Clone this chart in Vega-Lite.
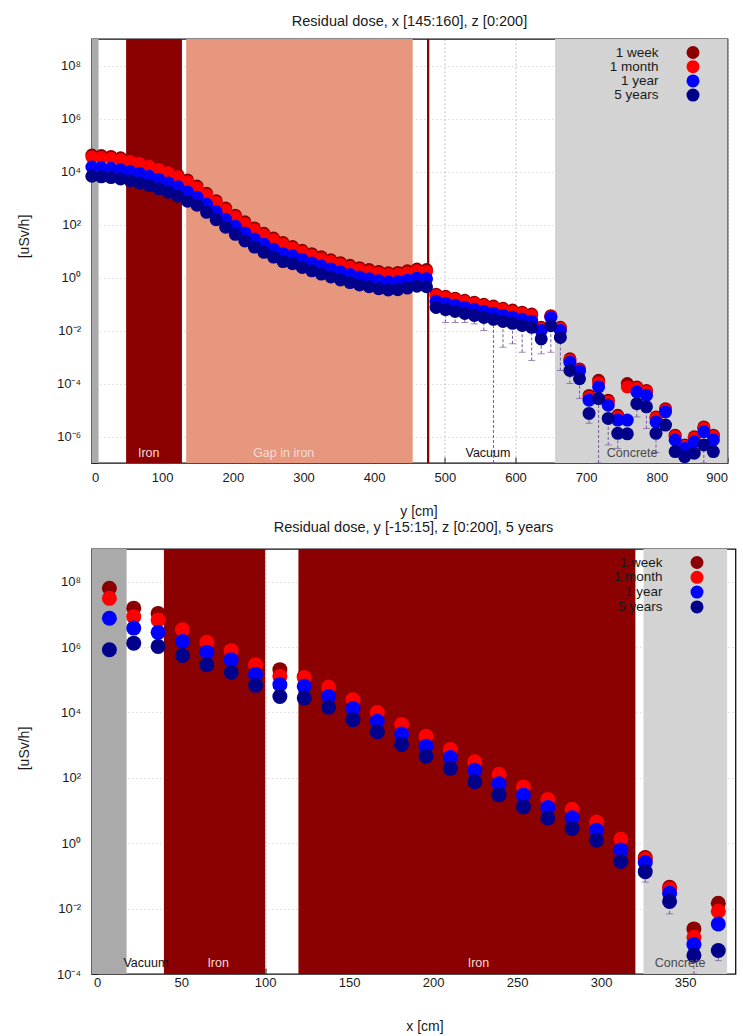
{
  "$schema": "https://vega.github.io/schema/vega-lite/v6.json",
  "background": "white",
  "padding": {"left": 16.5, "top": 13, "right": 5, "bottom": 2},
  "config": {
    "font": "Liberation Sans",
    "view": {"stroke": "#111", "strokeWidth": 1.3},
    "axis": {
      "labelFont": "Liberation Sans", "labelFontSize": 13, "labelColor": "#1a1a1a",
      "titleFont": "Liberation Sans", "titleFontSize": 14, "titleFontWeight": "normal", "titleColor": "#1a1a1a",
      "domain": false, "tickColor": "#222", "tickSize": -6, "tickWidth": 1,
      "gridColor": "#555", "gridDash": [1.5, 2.5], "gridOpacity": 0.45, "zindex": 1
    },
    "title": {"font": "Liberation Sans", "fontSize": 14.5, "fontWeight": "normal", "color": "#1a1a1a"},
    "legend": {"labelFont": "Liberation Sans", "labelFontSize": 13.5, "labelColor": "#1a1a1a"}
  },
  "datasets": {
    "top": [
      {"x": 0.5, "w": 4.17e4, "m": 3.55e4, "a": 1.48e4, "b": 6.61e3},
      {"x": 14.0, "w": 3.98e4, "m": 3.39e4, "a": 1.41e4, "b": 6.31e3},
      {"x": 27.6, "w": 3.72e4, "m": 3.16e4, "a": 1.32e4, "b": 5.89e3},
      {"x": 41.1, "w": 3.31e4, "m": 2.82e4, "a": 1.17e4, "b": 5.25e3},
      {"x": 54.6, "w": 2.82e4, "m": 2.40e4, "a": 1.00e4, "b": 4.47e3},
      {"x": 68.2, "w": 2.34e4, "m": 2.00e4, "a": 8.32e3, "b": 3.72e3},
      {"x": 81.7, "w": 1.86e4, "m": 1.58e4, "a": 6.61e3, "b": 2.95e3},
      {"x": 95.2, "w": 1.41e4, "m": 1.20e4, "a": 5.01e3, "b": 2.24e3},
      {"x": 108.7, "w": 1.05e4, "m": 8.91e3, "a": 3.72e3, "b": 1.66e3},
      {"x": 122.3, "w": 7.41e3, "m": 6.31e3, "a": 2.63e3, "b": 1.17e3},
      {"x": 135.8, "w": 4.79e3, "m": 4.07e3, "a": 1.70e3, "b": 759},
      {"x": 149.3, "w": 2.82e3, "m": 2.40e3, "a": 1.07e3, "b": 537},
      {"x": 162.9, "w": 1.51e3, "m": 1.29e3, "a": 575, "b": 288},
      {"x": 176.4, "w": 794, "m": 676, "a": 302, "b": 151},
      {"x": 189.9, "w": 417, "m": 355, "a": 158, "b": 79.4},
      {"x": 203.5, "w": 224, "m": 191, "a": 85.1, "b": 42.7},
      {"x": 217.0, "w": 126, "m": 107, "a": 47.9, "b": 24.0},
      {"x": 230.5, "w": 74.1, "m": 63.1, "a": 28.2, "b": 14.1},
      {"x": 244.0, "w": 46.8, "m": 39.8, "a": 17.8, "b": 8.91},
      {"x": 257.6, "w": 30.9, "m": 26.3, "a": 11.7, "b": 5.89},
      {"x": 271.1, "w": 20.9, "m": 17.8, "a": 7.94, "b": 3.98},
      {"x": 284.6, "w": 14.8, "m": 12.6, "a": 6.61, "b": 3.31},
      {"x": 298.2, "w": 10.7, "m": 9.12, "a": 4.79, "b": 2.40},
      {"x": 311.7, "w": 7.94, "m": 6.76, "a": 3.55, "b": 1.78},
      {"x": 325.2, "w": 6.03, "m": 5.13, "a": 2.69, "b": 1.35},
      {"x": 338.8, "w": 4.68, "m": 3.98, "a": 2.09, "b": 1.05},
      {"x": 352.3, "w": 3.63, "m": 3.09, "a": 1.62, "b": 0.813},
      {"x": 365.8, "w": 2.88, "m": 2.45, "a": 1.29, "b": 0.646},
      {"x": 379.3, "w": 2.34, "m": 2.00, "a": 1.05, "b": 0.525},
      {"x": 392.9, "w": 2.00, "m": 1.70, "a": 0.891, "b": 0.447},
      {"x": 406.4, "w": 1.70, "m": 1.45, "a": 0.759, "b": 0.380},
      {"x": 419.9, "w": 1.51, "m": 1.29, "a": 0.676, "b": 0.339},
      {"x": 433.5, "w": 1.55, "m": 1.32, "a": 0.692, "b": 0.347},
      {"x": 447.0, "w": 1.78, "m": 1.51, "a": 0.794, "b": 0.398},
      {"x": 460.5, "w": 2.09, "m": 1.78, "a": 0.933, "b": 0.468},
      {"x": 474.1, "w": 2.00, "m": 1.70, "a": 0.891, "b": 0.447},
      {"x": 487.6, "w": 0.234, "m": 0.209, "a": 0.126, "b": 0.0741},
      {"x": 501.1, "w": 0.195, "m": 0.174, "a": 0.105, "b": 0.0617},
      {"x": 514.6, "w": 0.166, "m": 0.148, "a": 0.0891, "b": 0.0525},
      {"x": 528.2, "w": 0.138, "m": 0.123, "a": 0.0741, "b": 0.0437},
      {"x": 541.7, "w": 0.117, "m": 0.105, "a": 0.0631, "b": 0.0372},
      {"x": 555.2, "w": 0.0977, "m": 0.0871, "a": 0.0525, "b": 0.0309},
      {"x": 568.8, "w": 0.0832, "m": 0.0741, "a": 0.0447, "b": 0.0263},
      {"x": 582.3, "w": 0.0692, "m": 0.0617, "a": 0.0372, "b": 0.0219},
      {"x": 595.8, "w": 0.0589, "m": 0.0525, "a": 0.0316, "b": 0.0186},
      {"x": 609.4, "w": 0.0490, "m": 0.0437, "a": 0.0263, "b": 0.0155},
      {"x": 622.9, "w": 0.0417, "m": 0.0372, "a": 0.0224, "b": 0.0132},
      {"x": 636.4, "w": 0.0132, "m": 0.0120, "a": 0.0100, "b": 0.00479},
      {"x": 650.0, "w": 0.0363, "m": 0.0339, "a": 0.0316, "b": 0.0151},
      {"x": 663.5, "w": 0.0132, "m": 0.0120, "a": 0.0100, "b": 0.00550},
      {"x": 677.0, "w": 8.51e-4, "m": 7.59e-4, "a": 6.31e-4, "b": 3.09e-4},
      {"x": 690.6, "w": 3.55e-4, "m": 3.24e-4, "a": 2.95e-4, "b": 1.51e-4},
      {"x": 704.1, "w": 3.55e-5, "m": 3.02e-5, "a": 2.34e-5, "b": 7.41e-6},
      {"x": 717.6, "w": 1.32e-4, "m": 1.07e-4, "a": 7.41e-5, "b": 2.69e-5},
      {"x": 731.2, "w": 2.34e-5, "m": 2.00e-5, "a": 1.51e-5, "b": 4.79e-6},
      {"x": 744.7, "w": 6.31e-6, "m": 5.50e-6, "a": 4.17e-6, "b": 1.32e-6},
      {"x": 758.2, "w": 1.00e-4, "m": 7.41e-5, "a": 4.17e-6, "b": 1.26e-6},
      {"x": 771.7, "w": 7.41e-5, "m": 6.61e-5, "a": 4.79e-5, "b": 1.74e-5},
      {"x": 785.3, "w": 5.50e-5, "m": 4.90e-5, "a": 3.55e-5, "b": 1.32e-5},
      {"x": 798.8, "w": 5.50e-6, "m": 4.90e-6, "a": 3.55e-6, "b": 1.32e-6},
      {"x": 812.3, "w": 1.12e-5, "m": 1.00e-5, "a": 8.51e-6, "b": 2.69e-6},
      {"x": 825.9, "w": 1.12e-6, "m": 1.00e-6, "a": 7.41e-7, "b": 2.69e-7},
      {"x": 839.4, "w": 4.79e-7, "m": 4.27e-7, "a": 3.55e-7, "b": 1.74e-7},
      {"x": 852.9, "w": 9.77e-7, "m": 8.71e-7, "a": 6.31e-7, "b": 2.34e-7},
      {"x": 866.5, "w": 2.29e-6, "m": 2.04e-6, "a": 1.51e-6, "b": 4.79e-7},
      {"x": 880.0, "w": 1.12e-6, "m": 1.00e-6, "a": 7.41e-7, "b": 2.69e-7}
    ],
    "errTop": [
      {"x": 501.1, "lo": 0.020, "hi": 0.0617},
      {"x": 514.6, "lo": 0.020, "hi": 0.0525},
      {"x": 528.2, "lo": 0.020, "hi": 0.0437},
      {"x": 541.7, "lo": 0.0178, "hi": 0.0372},
      {"x": 555.2, "lo": 0.0100, "hi": 0.0309},
      {"x": 568.8, "lo": 1e-7, "hi": 0.0263},
      {"x": 582.3, "lo": 2.34e-3, "hi": 0.0219},
      {"x": 595.8, "lo": 3.16e-3, "hi": 0.0186},
      {"x": 609.4, "lo": 1.51e-3, "hi": 0.0155},
      {"x": 622.9, "lo": 7.41e-4, "hi": 0.0132},
      {"x": 636.4, "lo": 1.32e-3, "hi": 0.00479},
      {"x": 650.0, "lo": 1.51e-3, "hi": 0.0151},
      {"x": 663.5, "lo": 3.09e-4, "hi": 0.0055},
      {"x": 677.0, "lo": 1.0e-4, "hi": 3.09e-4},
      {"x": 690.6, "lo": 2.69e-5, "hi": 1.51e-4},
      {"x": 704.1, "lo": 3.16e-6, "hi": 7.41e-6},
      {"x": 717.6, "lo": 1e-7, "hi": 2.69e-5},
      {"x": 731.2, "lo": 4.79e-7, "hi": 4.79e-6},
      {"x": 744.7, "lo": 3.55e-7, "hi": 1.32e-6},
      {"x": 771.7, "lo": 5.5e-6, "hi": 1.74e-5},
      {"x": 785.3, "lo": 2.0e-6, "hi": 1.32e-5},
      {"x": 798.8, "lo": 2.5e-7, "hi": 1.32e-6},
      {"x": 866.5, "lo": 1e-7, "hi": 4.79e-7}
    ],
    "bandsTop": [
      {"mat": "beam", "start": 0, "end": 10},
      {"mat": "iron", "start": 49, "end": 128},
      {"mat": "gap", "start": 134, "end": 454.5},
      {"mat": "iron", "start": 474.8, "end": 478},
      {"mat": "concrete", "start": 656, "end": 900}
    ],
    "labTop": [
      {"label": "Iron", "x": 81},
      {"label": "Gap in iron", "x": 272},
      {"label": "Vacuum", "x": 561},
      {"label": "Concrete", "x": 765}
    ],
    "bot": [
      {"x": 7.25, "w": 6.31e7, "m": 3.09e7, "a": 7.59e6, "b": 8.32e5},
      {"x": 21.75, "w": 1.55e7, "m": 8.51e6, "a": 3.80e6, "b": 1.32e6},
      {"x": 36.25, "w": 1.07e7, "m": 6.76e6, "a": 2.82e6, "b": 1.05e6},
      {"x": 50.75, "w": 3.63e6, "m": 3.39e6, "a": 1.48e6, "b": 5.50e5},
      {"x": 65.25, "w": 1.51e6, "m": 1.41e6, "a": 6.92e5, "b": 2.88e5},
      {"x": 79.75, "w": 8.32e5, "m": 7.76e5, "a": 4.07e5, "b": 1.70e5},
      {"x": 94.25, "w": 3.09e5, "m": 2.88e5, "a": 1.48e5, "b": 6.76e4},
      {"x": 108.75, "w": 2.04e5, "m": 1.26e5, "a": 7.08e4, "b": 3.09e4},
      {"x": 123.25, "w": 1.26e5, "m": 1.17e5, "a": 6.31e4, "b": 2.75e4},
      {"x": 137.75, "w": 6.31e4, "m": 5.89e4, "a": 3.09e4, "b": 1.45e4},
      {"x": 152.25, "w": 2.63e4, "m": 2.45e4, "a": 1.32e4, "b": 6.03e3},
      {"x": 166.75, "w": 1.07e4, "m": 1.00e4, "a": 5.37e3, "b": 2.57e3},
      {"x": 181.25, "w": 4.57e3, "m": 4.27e3, "a": 2.19e3, "b": 1.05e3},
      {"x": 195.75, "w": 2.00e3, "m": 1.86e3, "a": 933, "b": 457},
      {"x": 210.25, "w": 794, "m": 741, "a": 417, "b": 195},
      {"x": 224.75, "w": 331, "m": 309, "a": 170, "b": 75.9},
      {"x": 239.25, "w": 138, "m": 129, "a": 66.1, "b": 30.2},
      {"x": 253.75, "w": 56.2, "m": 52.5, "a": 29.5, "b": 12.9},
      {"x": 268.25, "w": 23.4, "m": 21.9, "a": 12.3, "b": 5.89},
      {"x": 282.75, "w": 11.7, "m": 11.0, "a": 6.03, "b": 2.82},
      {"x": 297.25, "w": 4.79, "m": 4.47, "a": 2.51, "b": 1.23},
      {"x": 311.75, "w": 1.41, "m": 1.32, "a": 0.617, "b": 0.275},
      {"x": 326.25, "w": 0.363, "m": 0.324, "a": 0.257, "b": 0.135},
      {"x": 340.75, "w": 0.0447, "m": 0.0398, "a": 0.0295, "b": 0.0166},
      {"x": 355.25, "w": 2.40e-3, "m": 1.32e-3, "a": 7.94e-4, "b": 3.72e-4},
      {"x": 369.75, "w": 0.0145, "m": 8.32e-3, "a": 3.39e-3, "b": 5.25e-4}
    ],
    "errBot": [
      {"x": 326.25, "lo": 0.0646, "hi": 0.135},
      {"x": 340.75, "lo": 6.92e-3, "hi": 0.0166},
      {"x": 355.25, "lo": 1.0e-4, "hi": 3.72e-4},
      {"x": 369.75, "lo": 2.57e-4, "hi": 5.25e-4}
    ],
    "bandsBot": [
      {"mat": "beam", "start": -3.4, "end": 17.5},
      {"mat": "iron", "start": 39.7, "end": 100},
      {"mat": "iron", "start": 119.8, "end": 320.4},
      {"mat": "concrete", "start": 325.2, "end": 375}
    ],
    "labBot": [
      {"label": "Vacuum", "x": 29},
      {"label": "Iron", "x": 72},
      {"label": "Iron", "x": 227},
      {"label": "Concrete", "x": 347}
    ]
  },
  "resolve": {"legend": {"color": "independent", "fill": "independent"}},
  "spacing": 0,
  "vconcat": [
    {
      "width": 636,
      "height": 424,
      "title": {"text": "Residual dose, x [145:160], z [0:200]", "offset": 9},
      "layer": [
        {
          "data": {"name": "bandsTop"},
          "transform": [{"filter": "datum.mat == 'beam'"}],
          "mark": {"type": "rect", "color": "#aaaaaa"},
          "encoding": {
            "x": {"field": "start", "type": "quantitative", "scale": {"domain": [0, 900], "nice": false, "zero": false},
                  "axis": {"title": "y [cm]", "values": [0, 100, 200, 300, 400, 500, 600, 700, 800, 900], "labelPadding": 14, "titleX": 327, "titleY": 41, "titleBaseline": "top"}},
            "x2": {"field": "end"}
          }
        },
        {
          "data": {"name": "bandsTop"},
          "transform": [{"filter": "datum.mat == 'iron'"}],
          "mark": {"type": "rect", "color": "#8b0000"},
          "encoding": {"x": {"field": "start", "type": "quantitative"}, "x2": {"field": "end"}}
        },
        {
          "data": {"name": "bandsTop"},
          "transform": [{"filter": "datum.mat == 'gap'"}],
          "mark": {"type": "rect", "color": "#e6977d"},
          "encoding": {"x": {"field": "start", "type": "quantitative"}, "x2": {"field": "end"}}
        },
        {
          "data": {"name": "bandsTop"},
          "transform": [{"filter": "datum.mat == 'concrete'"}],
          "mark": {"type": "rect", "color": "#d3d3d3"},
          "encoding": {"x": {"field": "start", "type": "quantitative"}, "x2": {"field": "end"}}
        },
        {
          "data": {"name": "errTop"},
          "mark": {"type": "rule", "color": "#7a5a9c", "strokeDash": [3, 2], "strokeWidth": 1},
          "encoding": {
            "x": {"field": "x", "type": "quantitative"},
            "y": {"field": "lo", "type": "quantitative", "scale": {"type": "log", "domain": [1e-7, 1e9]}},
            "y2": {"field": "hi"}
          }
        },
        {
          "data": {"name": "errTop"},
          "mark": {"type": "tick", "color": "#7a5a9c", "orient": "horizontal", "size": 7, "thickness": 1},
          "encoding": {
            "x": {"field": "x", "type": "quantitative"},
            "y": {"field": "lo", "type": "quantitative", "scale": {"type": "log", "domain": [1e-7, 1e9]}}
          }
        },
        {
          "data": {"name": "top"},
          "mark": {"type": "circle", "size": 169, "opacity": 1},
          "encoding": {
            "x": {"field": "x", "type": "quantitative"},
            "y": {"field": "w", "type": "quantitative", "scale": {"type": "log", "domain": [1e-7, 1e9]},
                  "axis": {"title": "[uSv/h]", "titlePadding": 25, "labelPadding": 17, "titleY": 197,
                           "values": [1e-7, 1e-6, 1e-5, 1e-4, 1e-3, 1e-2, 1e-1, 1, 10, 100, 1e3, 1e4, 1e5, 1e6, 1e7, 1e8, 1e9],
                           "labelExpr": "abs(round(log(datum.value)/LN10)) % 2 == 1 ? '' : '10' + (datum.value < 0.5 ? '⁻' : '') + substring('⁰¹²³⁴⁵⁶⁷⁸⁹', abs(round(log(datum.value)/LN10)), abs(round(log(datum.value)/LN10)) + 1)",
                           "gridOpacity": {"condition": {"test": "abs(round(log(datum.value)/LN10)) % 2 == 1", "value": 0}, "value": 0.45}}},
            "color": {"datum": "1 week", "type": "nominal",
                      "scale": {"domain": ["1 week", "1 month", "1 year", "5 years"], "range": ["#8b0000", "#ff0000", "#0000ff", "#00008b"]},
                      "legend": {"title": null, "orient": "none", "legendX": 594, "legendY": 6, "symbolSize": 169,
                                 "labelAlign": "right", "labelOffset": -42, "rowPadding": 0.2}}
          }
        },
        {
          "data": {"name": "top"},
          "mark": {"type": "circle", "size": 169, "opacity": 1},
          "encoding": {
            "x": {"field": "x", "type": "quantitative"},
            "y": {"field": "m", "type": "quantitative", "scale": {"type": "log", "domain": [1e-7, 1e9]}},
            "color": {"datum": "1 month", "type": "nominal"}
          }
        },
        {
          "data": {"name": "top"},
          "mark": {"type": "circle", "size": 169, "opacity": 1},
          "encoding": {
            "x": {"field": "x", "type": "quantitative"},
            "y": {"field": "a", "type": "quantitative", "scale": {"type": "log", "domain": [1e-7, 1e9]}},
            "color": {"datum": "1 year", "type": "nominal"}
          }
        },
        {
          "data": {"name": "top"},
          "mark": {"type": "circle", "size": 169, "opacity": 1},
          "encoding": {
            "x": {"field": "x", "type": "quantitative"},
            "y": {"field": "b", "type": "quantitative", "scale": {"type": "log", "domain": [1e-7, 1e9]}},
            "color": {"datum": "5 years", "type": "nominal"}
          }
        },
        {
          "data": {"name": "labTop"},
          "transform": [{"filter": "datum.label == 'Iron' || datum.label == 'Gap in iron'"}],
          "mark": {"type": "text", "fontSize": 12.5, "color": "#f6dcd4", "baseline": "bottom", "dy": -3},
          "encoding": {
            "x": {"field": "x", "type": "quantitative"},
            "y": {"datum": 1e-7, "type": "quantitative", "scale": {"type": "log", "domain": [1e-7, 1e9]}},
            "text": {"field": "label"}
          }
        },
        {
          "data": {"name": "labTop"},
          "transform": [{"filter": "datum.label == 'Vacuum'"}],
          "mark": {"type": "text", "fontSize": 12.5, "color": "#111111", "baseline": "bottom", "dy": -3},
          "encoding": {
            "x": {"field": "x", "type": "quantitative"},
            "y": {"datum": 1e-7, "type": "quantitative", "scale": {"type": "log", "domain": [1e-7, 1e9]}},
            "text": {"field": "label"}
          }
        },
        {
          "data": {"name": "labTop"},
          "transform": [{"filter": "datum.label == 'Concrete'"}],
          "mark": {"type": "text", "fontSize": 12.5, "color": "#4a4a4a", "baseline": "bottom", "dy": -3},
          "encoding": {
            "x": {"field": "x", "type": "quantitative"},
            "y": {"datum": 1e-7, "type": "quantitative", "scale": {"type": "log", "domain": [1e-7, 1e9]}},
            "text": {"field": "label"}
          }
        }
      ]
    },
    {
      "width": 644,
      "height": 425,
      "title": {"text": "Residual dose, y [-15:15], z [0:200], 5 years", "offset": 13},
      "layer": [
        {
          "data": {"name": "bandsBot"},
          "transform": [{"filter": "datum.mat == 'beam'"}],
          "mark": {"type": "rect", "color": "#aaaaaa"},
          "encoding": {
            "x": {"field": "start", "type": "quantitative", "scale": {"domain": [-3.4, 380], "nice": false, "zero": false},
                  "axis": {"title": "x [cm]", "values": [0, 50, 100, 150, 200, 250, 300, 350], "labelPadding": 8, "titleX": 333, "titleY": 45, "titleBaseline": "top"}},
            "x2": {"field": "end"}
          }
        },
        {
          "data": {"name": "bandsBot"},
          "transform": [{"filter": "datum.mat == 'iron'"}],
          "mark": {"type": "rect", "color": "#8b0000"},
          "encoding": {"x": {"field": "start", "type": "quantitative"}, "x2": {"field": "end"}}
        },
        {
          "data": {"name": "bandsBot"},
          "transform": [{"filter": "datum.mat == 'concrete'"}],
          "mark": {"type": "rect", "color": "#d3d3d3"},
          "encoding": {"x": {"field": "start", "type": "quantitative"}, "x2": {"field": "end"}}
        },
        {
          "data": {"name": "errBot"},
          "mark": {"type": "rule", "color": "#7a5a9c", "strokeDash": [3, 2], "strokeWidth": 1},
          "encoding": {
            "x": {"field": "x", "type": "quantitative"},
            "y": {"field": "lo", "type": "quantitative", "scale": {"type": "log", "domain": [1e-4, 1e9]}},
            "y2": {"field": "hi"}
          }
        },
        {
          "data": {"name": "errBot"},
          "mark": {"type": "tick", "color": "#7a5a9c", "orient": "horizontal", "size": 7, "thickness": 1},
          "encoding": {
            "x": {"field": "x", "type": "quantitative"},
            "y": {"field": "lo", "type": "quantitative", "scale": {"type": "log", "domain": [1e-4, 1e9]}}
          }
        },
        {
          "data": {"name": "bot"},
          "mark": {"type": "circle", "size": 225, "opacity": 1},
          "encoding": {
            "x": {"field": "x", "type": "quantitative"},
            "y": {"field": "w", "type": "quantitative", "scale": {"type": "log", "domain": [1e-4, 1e9]},
                  "axis": {"title": "[uSv/h]", "titlePadding": 25, "labelPadding": 17, "titleY": 199,
                           "values": [1e-4, 1e-3, 1e-2, 1e-1, 1, 10, 100, 1e3, 1e4, 1e5, 1e6, 1e7, 1e8, 1e9],
                           "labelExpr": "abs(round(log(datum.value)/LN10)) % 2 == 1 ? '' : '10' + (datum.value < 0.5 ? '⁻' : '') + substring('⁰¹²³⁴⁵⁶⁷⁸⁹', abs(round(log(datum.value)/LN10)), abs(round(log(datum.value)/LN10)) + 1)",
                           "gridOpacity": {"condition": {"test": "abs(round(log(datum.value)/LN10)) % 2 == 1", "value": 0}, "value": 0.45}}},
            "fill": {"datum": "1 week", "type": "nominal",
                     "scale": {"domain": ["1 week", "1 month", "1 year", "5 years"], "range": ["#8b0000", "#ff0000", "#0000ff", "#00008b"]},
                     "legend": {"title": null, "orient": "none", "legendX": 598, "legendY": 6, "symbolSize": 169,
                                "labelAlign": "right", "labelOffset": -42, "rowPadding": 0.8}}
          }
        },
        {
          "data": {"name": "bot"},
          "mark": {"type": "circle", "size": 225, "opacity": 1},
          "encoding": {
            "x": {"field": "x", "type": "quantitative"},
            "y": {"field": "m", "type": "quantitative", "scale": {"type": "log", "domain": [1e-4, 1e9]}},
            "fill": {"datum": "1 month", "type": "nominal"}
          }
        },
        {
          "data": {"name": "bot"},
          "mark": {"type": "circle", "size": 225, "opacity": 1},
          "encoding": {
            "x": {"field": "x", "type": "quantitative"},
            "y": {"field": "a", "type": "quantitative", "scale": {"type": "log", "domain": [1e-4, 1e9]}},
            "fill": {"datum": "1 year", "type": "nominal"}
          }
        },
        {
          "data": {"name": "bot"},
          "mark": {"type": "circle", "size": 225, "opacity": 1},
          "encoding": {
            "x": {"field": "x", "type": "quantitative"},
            "y": {"field": "b", "type": "quantitative", "scale": {"type": "log", "domain": [1e-4, 1e9]}},
            "fill": {"datum": "5 years", "type": "nominal"}
          }
        },
        {
          "data": {"name": "labBot"},
          "transform": [{"filter": "datum.label == 'Iron'"}],
          "mark": {"type": "text", "fontSize": 12.5, "color": "#f6dcd4", "baseline": "bottom", "dy": -4},
          "encoding": {
            "x": {"field": "x", "type": "quantitative"},
            "y": {"datum": 1e-4, "type": "quantitative", "scale": {"type": "log", "domain": [1e-4, 1e9]}},
            "text": {"field": "label"}
          }
        },
        {
          "data": {"name": "labBot"},
          "transform": [{"filter": "datum.label == 'Vacuum'"}],
          "mark": {"type": "text", "fontSize": 12.5, "color": "#111111", "baseline": "bottom", "dy": -4},
          "encoding": {
            "x": {"field": "x", "type": "quantitative"},
            "y": {"datum": 1e-4, "type": "quantitative", "scale": {"type": "log", "domain": [1e-4, 1e9]}},
            "text": {"field": "label"}
          }
        },
        {
          "data": {"name": "labBot"},
          "transform": [{"filter": "datum.label == 'Concrete'"}],
          "mark": {"type": "text", "fontSize": 12.5, "color": "#4a4a4a", "baseline": "bottom", "dy": -4},
          "encoding": {
            "x": {"field": "x", "type": "quantitative"},
            "y": {"datum": 1e-4, "type": "quantitative", "scale": {"type": "log", "domain": [1e-4, 1e9]}},
            "text": {"field": "label"}
          }
        }
      ]
    }
  ]
}
